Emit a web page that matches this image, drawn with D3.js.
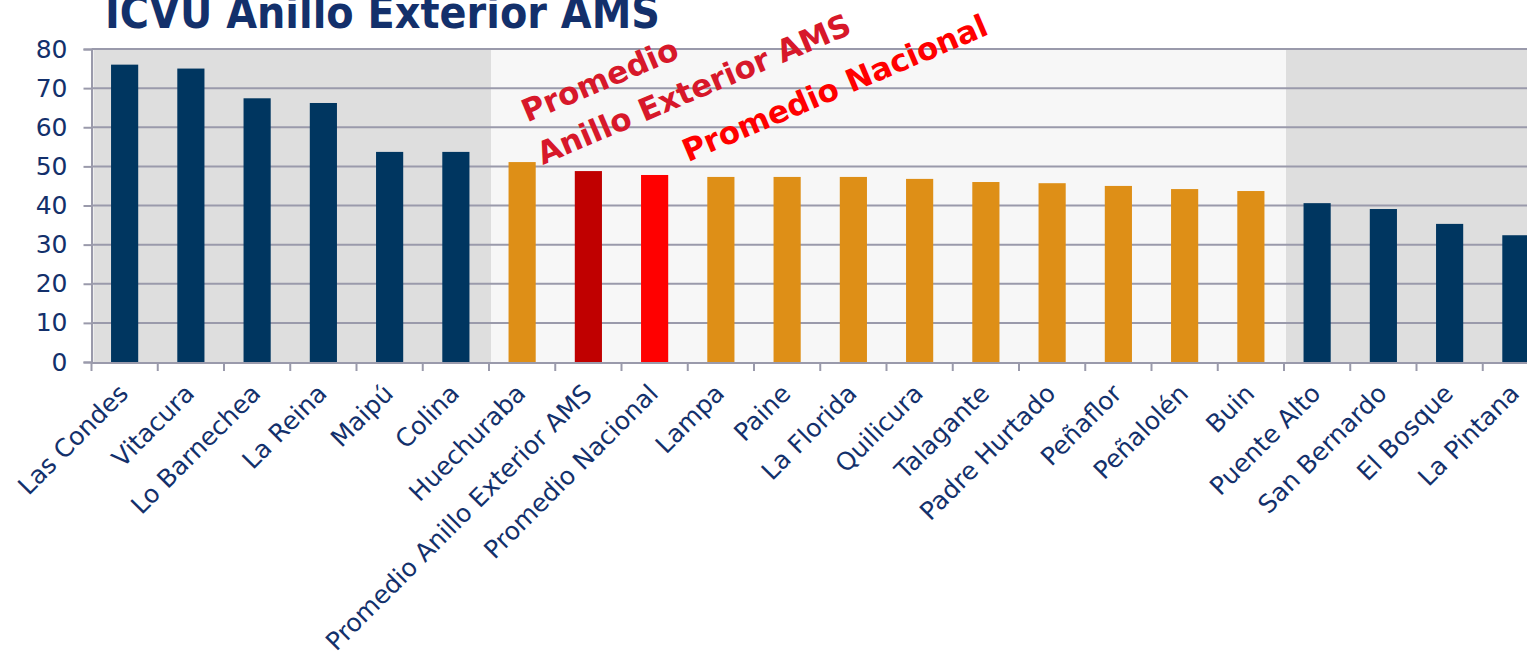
<!DOCTYPE html>
<html>
<head>
<meta charset="utf-8">
<script src="https://cdn.jsdelivr.net/npm/d3@7"></script>
<style>
  body { margin: 0; background: #fff; }
  svg { display: block; }
  text { font-family: "DejaVu Sans", sans-serif; }
</style>
</head>
<body>
<svg id="chart" width="1527" height="653"></svg>
<script>
// comunas y promedios, en el orden del gráfico
var comunas = [
  "Las Condes", "Vitacura", "Lo Barnechea", "La Reina", "Maipú", "Colina",
  "Huechuraba", "Promedio Anillo Exterior AMS", "Promedio Nacional", "Lampa",
  "Paine", "La Florida", "Quilicura", "Talagante", "Padre Hurtado", "Peñaflor",
  "Peñalolén", "Buin", "Puente Alto", "San Bernardo", "El Bosque", "La Pintana"
];
var icvu = [
  76.0, 75.0, 67.4, 66.2, 53.7, 53.7,
  51.1, 48.8, 47.8, 47.3,
  47.3, 47.3, 46.8, 46.0, 45.7, 45.0,
  44.2, 43.7, 40.6, 39.1, 35.3, 32.4
];
// grupo de cada barra: alto, medio, promedio AMS, promedio nacional, bajo
var grupos = [
  "alto", "alto", "alto", "alto", "alto", "alto",
  "medio", "promAMS", "promNac", "medio",
  "medio", "medio", "medio", "medio", "medio", "medio",
  "medio", "medio", "bajo", "bajo", "bajo", "bajo"
];
var yTicks = [0, 10, 20, 30, 40, 50, 60, 70, 80];

var colores = {
  alto: "#003660", bajo: "#003660", medio: "#de8f17",
  promAMS: "#c00000", promNac: "#ff0000"
};
var navy = "#13306b";
var gridColor = "#9a9aab";

var svg = d3.select("#chart");

var x0 = 91.5, step = 66.25;
var x = d3.scaleBand()
  .domain(comunas)
  .range([x0, x0 + step * comunas.length])
  .paddingInner(0.59)
  .paddingOuter(0.295);

var y = d3.scaleLinear().domain([0, 80]).range([362, 49]);

// franjas de fondo
var franjas = [
  { desde: 0, hasta: 6, fill: "#dedede" },
  { desde: 6, hasta: 18, fill: "#f7f7f7" },
  { desde: 18, hasta: 22, fill: "#dedede" }
];
svg.append("g").selectAll("rect")
  .data(franjas)
  .enter()
  .append("rect")
  .attr("x", function (d) { return x0 + d.desde * x.step() + 2; })
  .attr("width", function (d) { return (d.hasta - d.desde) * x.step(); })
  .attr("y", y(80))
  .attr("height", y(0) - y(80))
  .attr("fill", function (d) { return d.fill; });

// líneas de grilla
svg.append("g").selectAll("line")
  .data(yTicks.filter(function (d) { return d > 0; }))
  .enter()
  .append("line")
  .attr("x1", x0)
  .attr("x2", 1527)
  .attr("y1", function (d) { return y(d); })
  .attr("y2", function (d) { return y(d); })
  .attr("stroke", gridColor)
  .attr("stroke-width", 2);

// barras
svg.append("g").selectAll("rect")
  .data(comunas)
  .enter()
  .append("rect")
  .attr("x", function (d) { return x(d); })
  .attr("width", x.bandwidth())
  .attr("y", function (d, i) { return y(icvu[i]); })
  .attr("height", function (d, i) { return y(0) - y(icvu[i]); })
  .attr("fill", function (d, i) { return colores[grupos[i]]; });

// eje Y
var yAxis = svg.append("g")
  .attr("transform", "translate(" + x0 + ",0)")
  .call(d3.axisLeft(y).tickValues(yTicks).tickSize(8).tickPadding(16));
yAxis.select(".domain").attr("stroke", gridColor).attr("stroke-width", 2);
yAxis.selectAll(".tick line").attr("stroke", gridColor).attr("stroke-width", 2);
yAxis.selectAll(".tick text")
  .attr("fill", navy)
  .style("font-size", "25px")
  .attr("font-family", "DejaVu Sans");

// eje X
var xAxis = svg.append("g")
  .attr("transform", "translate(0," + y(0) + ")");
xAxis.append("line")
  .attr("x1", x0).attr("x2", 1527)
  .attr("y1", 1).attr("y2", 1)
  .attr("stroke", gridColor).attr("stroke-width", 2);
xAxis.selectAll("line.tick")
  .data(d3.range(comunas.length + 1))
  .enter()
  .append("line")
  .attr("class", "tick")
  .attr("x1", function (i) { return x0 + i * x.step(); })
  .attr("x2", function (i) { return x0 + i * x.step(); })
  .attr("y1", 0).attr("y2", 9)
  .attr("stroke", gridColor).attr("stroke-width", 2);
xAxis.selectAll("text")
  .data(comunas)
  .enter()
  .append("text")
  .attr("transform", function (d) {
    var cx = x(d) + x.bandwidth() / 2 + 5;
    return "translate(" + cx + ",33) rotate(-45)";
  })
  .attr("text-anchor", "end")
  .attr("fill", navy)
  .style("font-size", "25px")
  .text(function (d) { return d; });

// título
svg.append("text")
  .attr("x", 105)
  .attr("y", 28)
  .attr("fill", navy)
  .attr("font-weight", "bold")
  .style("font-size", "44px")
  .attr("textLength", 555)
  .attr("lengthAdjust", "spacingAndGlyphs")
  .text("ICVU Anillo Exterior AMS");

// anotaciones
var notas = [
  { texto: "Promedio", x: 604, y: 90, color: "#d7182a" },
  { texto: "Anillo Exterior AMS", x: 698, y: 99, color: "#d7182a" },
  { texto: "Promedio Nacional", x: 839, y: 98, color: "#ff0000" }
];
svg.append("g").selectAll("text")
  .data(notas)
  .enter()
  .append("text")
  .attr("transform", function (d) {
    return "translate(" + d.x + "," + d.y + ") rotate(-23)";
  })
  .attr("text-anchor", "middle")
  .attr("fill", function (d) { return d.color; })
  .attr("font-weight", "bold")
  .style("font-size", "31px")
  .text(function (d) { return d.texto; });
</script>
</body>
</html>
